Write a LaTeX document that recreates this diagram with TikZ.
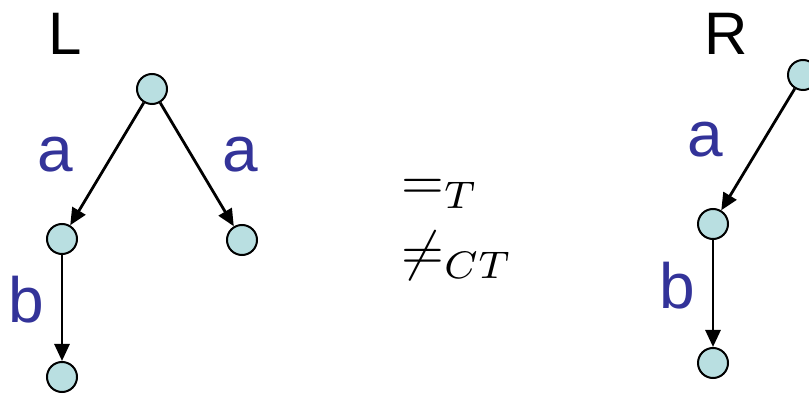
\documentclass[tikz,border=0pt]{standalone}
\usepackage{fontspec}
\usepackage{graphicx}
\setmainfont{Liberation Sans}
\usetikzlibrary{arrows.meta}
\definecolor{nodefill}{RGB}{185,223,225}
\definecolor{lblblue}{RGB}{51,51,153}
\tikzset{
  state/.style={circle, draw=black, fill=nodefill, line width=2pt, minimum size=30pt, inner sep=0pt},
  trans/.style={line width=2.8pt, -{Triangle[length=17pt,width=15pt]}},
  lbl/.style={text=lblblue, inner sep=0pt, font=\fontsize{64}{66}\selectfont},
  title/.style={text=black, inner sep=0pt, font=\fontsize{60}{62}\selectfont},
  mathlbl/.style={inner sep=0pt, anchor=base west}
}
\begin{document}
\begin{tikzpicture}[x=1pt,y=-1pt]
\clip (0,0) rectangle (809,395);
% left tree
\node[title] (Lt) at (65,34) {L};
\node[state] (l0) at (152,89) {};
\node[state] (l1) at (62,239) {};
\node[state] (l2) at (242,240) {};
\node[state] (l3) at (62,377) {};
\draw[trans] (l0) -- (l1);
\draw[trans] (l0) -- (l2);
\draw[trans] (l1) -- (l3);
\node[lbl] (la1) at (55,155) {a};
\node[lbl] (la2) at (240,155) {a};
\node[lbl] (lb) at (26,300) {b};
% middle
\node[mathlbl] (eqT) at (401,200) {\scalebox{5.5}{$=_T$}};
\node[mathlbl] (neqCT) at (401,270) {\scalebox{5.5}{$\neq_{CT}$}};
% right tree
\node[title] (Rt) at (726,34) {R};
\node[state] (r0) at (803,75) {};
\node[state] (r1) at (713,224) {};
\node[state] (r2) at (713,363) {};
\draw[trans] (r0) -- (r1);
\draw[trans] (r1) -- (r2);
\node[lbl] (ra) at (705,140) {a};
\node[lbl] (rb) at (677,286) {b};
\end{tikzpicture}
\end{document}
